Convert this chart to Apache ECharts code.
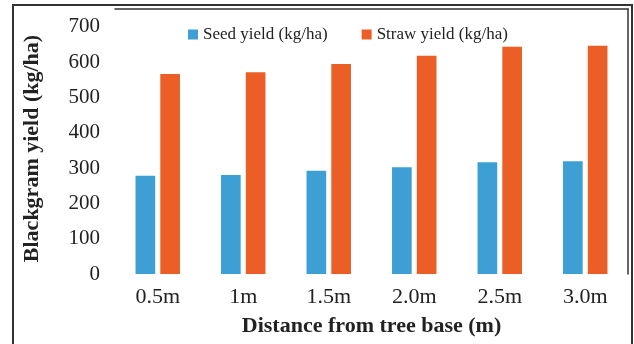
<!DOCTYPE html>
<html>
<head>
<meta charset="utf-8">
<script src="https://cdn.jsdelivr.net/npm/echarts@6/dist/echarts.min.js"></script>
<style>
  html, body { margin: 0; padding: 0; background: #fff; }
  #chart { width: 634px; height: 344px; }
</style>
</head>
<body>
<div id="chart"></div>
<script>
// Blackgram yield by distance from the tree base
const distances = ['0.5m', '1m', '1.5m', '2.0m', '2.5m', '3.0m'];
const seedYield = [278, 280, 292, 302, 316, 319];
const strawYield = [566, 571, 594, 618, 643, 646];
const yTicks = { min: 0, max: 750, step: 100 };

const serif = '"Liberation Serif", "DejaVu Serif", serif';
const chart = echarts.init(document.getElementById('chart'), null, { renderer: 'canvas' });

chart.setOption({
  animation: false,
  backgroundColor: '#fff',
  textStyle: { fontFamily: serif },
  graphic: [{
    type: 'rect',
    shape: { x: 13, y: 5, width: 619, height: 400 },
    style: { fill: 'none', stroke: '#333', lineWidth: 2 },
    silent: true
  }],
  legend: {
    top: 21,
    left: 183,
    itemWidth: 10,
    itemHeight: 10,
    itemGap: 34,
    icon: 'rect',
    textStyle: { fontFamily: serif, fontSize: 17, color: '#222' },
    data: ['Seed yield (kg/ha)', 'Straw yield (kg/ha)']
  },
  grid: { left: 115, right: 6, top: 9, bottom: 70 },
  xAxis: [{
    type: 'category',
    data: distances,
    axisLine: { show: false },
    axisTick: { show: false },
    axisLabel: { fontFamily: serif, fontSize: 22, color: '#222', margin: 12 },
    name: 'Distance from tree base (m)',
    nameLocation: 'middle',
    nameGap: 41,
    nameTextStyle: { fontFamily: serif, fontSize: 22, fontWeight: 'bold', color: '#222' }
  }, {
    type: 'category',
    position: 'top',
    data: distances,
    axisLine: { show: true, onZero: false, lineStyle: { color: '#333', width: 1.5 } },
    axisTick: { show: false },
    axisLabel: { show: false }
  }],
  yAxis: [{
    type: 'value',
    min: yTicks.min,
    max: yTicks.max,
    interval: yTicks.step,
    splitLine: { show: false },
    axisLine: { show: false },
    axisTick: { show: false },
    axisLabel: {
      fontFamily: serif, fontSize: 21, color: '#222', margin: 15,
      formatter: v => (v % yTicks.step === 0 ? String(v) : '')
    },
    name: 'Blackgram yield (kg/ha)',
    nameLocation: 'middle',
    nameGap: 72,
    nameTextStyle: { fontFamily: serif, fontSize: 22, fontWeight: 'bold', color: '#222', padding: [0, 14, 0, 0] }
  }, {
    type: 'value',
    position: 'right',
    min: yTicks.min,
    max: yTicks.max,
    interval: yTicks.step,
    splitLine: { show: false },
    axisLine: { show: true, onZero: false, lineStyle: { color: '#333', width: 1.5 } },
    axisTick: { show: false },
    axisLabel: { show: false }
  }],
  series: [{
    name: 'Seed yield (kg/ha)',
    type: 'bar',
    data: seedYield,
    barWidth: '23%',
    barGap: '26%',
    itemStyle: { color: '#3d9fd3' }
  }, {
    name: 'Straw yield (kg/ha)',
    type: 'bar',
    data: strawYield,
    barWidth: '23%',
    itemStyle: { color: '#eb5e25' }
  }]
});
</script>
</body>
</html>
